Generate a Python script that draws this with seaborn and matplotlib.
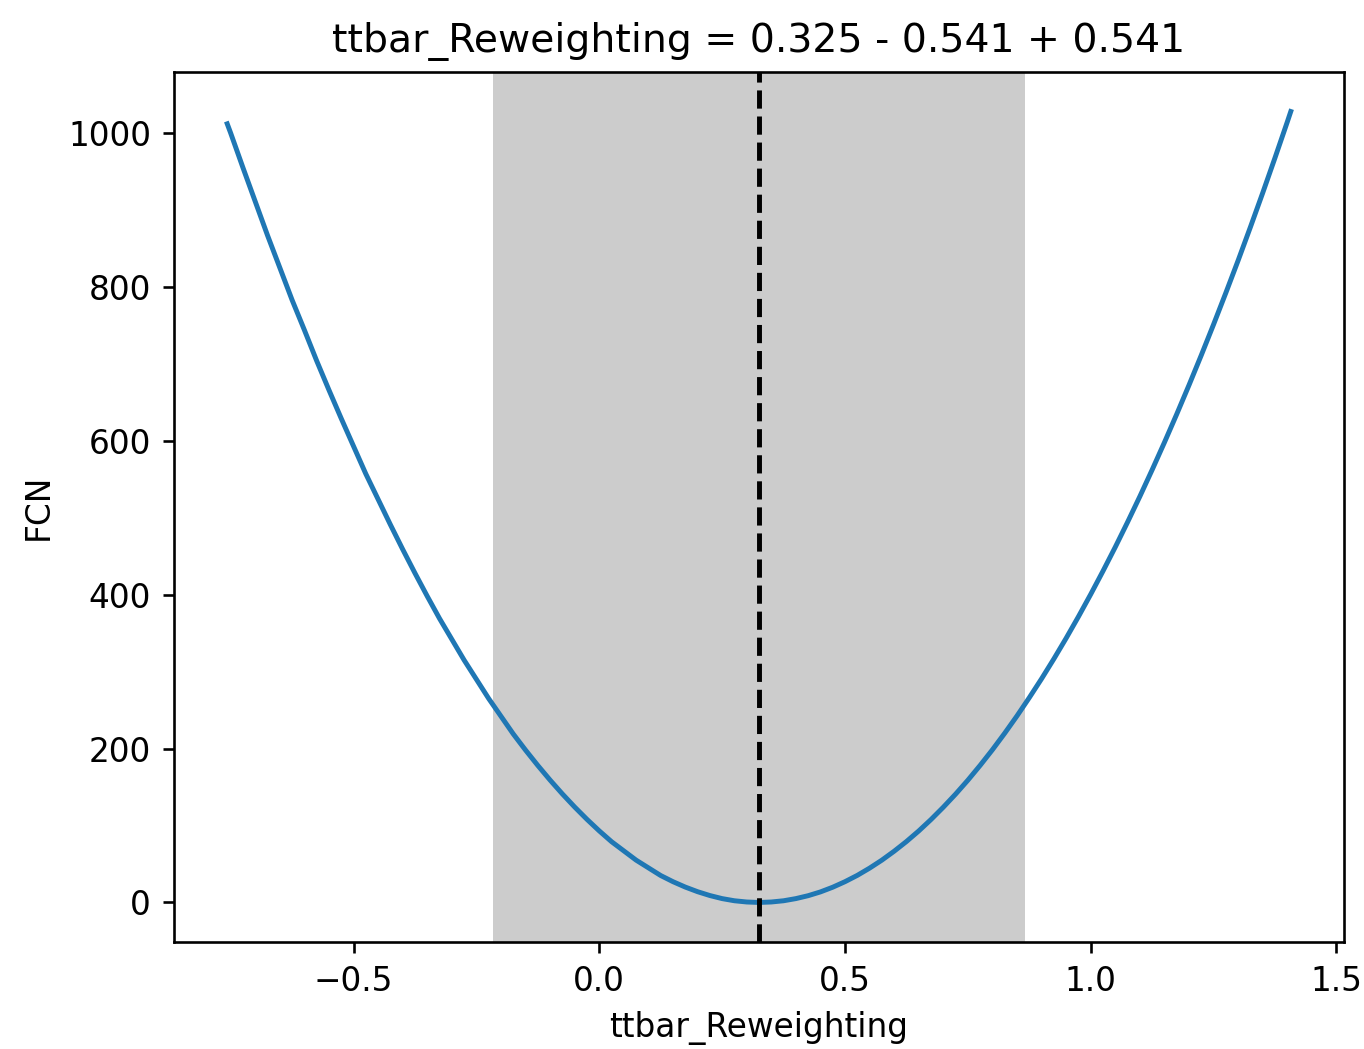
import matplotlib
matplotlib.use("Agg")
import matplotlib.pyplot as plt
import seaborn as sns
import pandas as pd

param_name = "ttbar_Reweighting"
best_fit = 0.325
err_down = 0.541
err_up = 0.541

scan_x = [-0.757, -0.750, -0.725, -0.700, -0.675, -0.650, -0.625, -0.600, -0.575, -0.550,
          -0.525, -0.500, -0.475, -0.450, -0.425, -0.400, -0.375, -0.350, -0.325, -0.300,
          -0.275, -0.250, -0.225, -0.200, -0.175, -0.150, -0.125, -0.100, -0.075, -0.050,
          -0.025, 0.000, 0.025, 0.050, 0.075, 0.100, 0.125, 0.150, 0.175, 0.200,
          0.225, 0.250, 0.275, 0.300, 0.325, 0.350, 0.375, 0.400, 0.425, 0.450,
          0.475, 0.500, 0.525, 0.550, 0.575, 0.600, 0.625, 0.650, 0.675, 0.700,
          0.725, 0.750, 0.775, 0.800, 0.825, 0.850, 0.875, 0.900, 0.925, 0.950,
          0.975, 1.000, 1.025, 1.050, 1.075, 1.100, 1.125, 1.150, 1.175, 1.200,
          1.225, 1.250, 1.275, 1.300, 1.325, 1.350, 1.375, 1.400, 1.407]
scan_fcn = [1012, 1000, 955, 911, 867, 825, 783, 744, 704, 666,
            629, 593, 557, 524, 491, 459, 428, 398, 369, 342,
            315, 290, 265, 242, 219, 198, 178, 159, 141, 124,
            108, 93, 79, 67, 55, 45, 35, 27, 20, 14,
            9, 5, 2.2, 0.6, 0, 0.6, 2.2, 5, 8.8, 13.7,
            19.8, 27, 35.2, 44.6, 55, 66.6, 79.2, 92.9, 107.8, 123.8,
            140.8, 158.9, 178.2, 198.5, 220, 242.5, 266.2, 290.8, 316.6, 343.5,
            371.5, 400.6, 430.8, 462, 494.4, 527.8, 562.4, 598, 634.7, 672.5,
            711.4, 751.4, 792.5, 834.6, 878, 922.4, 968, 1014.6, 1028]

df = pd.DataFrame({"x": scan_x, "FCN": scan_fcn})

fig = plt.figure(figsize=(1364 / 236, 1049 / 236), dpi=236)
ax = fig.add_axes([0.1276, 0.102, 0.8577, 0.8294])

ax.axvspan(best_fit - err_down, best_fit + err_up, color="k", alpha=0.2, lw=0)
sns.lineplot(data=df, x="x", y="FCN", ax=ax, color="#1f77b4", sort=False)
ax.axvline(best_fit, color="k", ls="--")

ax.set_xlabel(param_name)
ax.set_ylabel("FCN")
ax.set_title(f"{param_name} = {best_fit:.3f} - {err_down:.3f} + {err_up:.3f}")

fig.savefig("out.png", dpi=236)
